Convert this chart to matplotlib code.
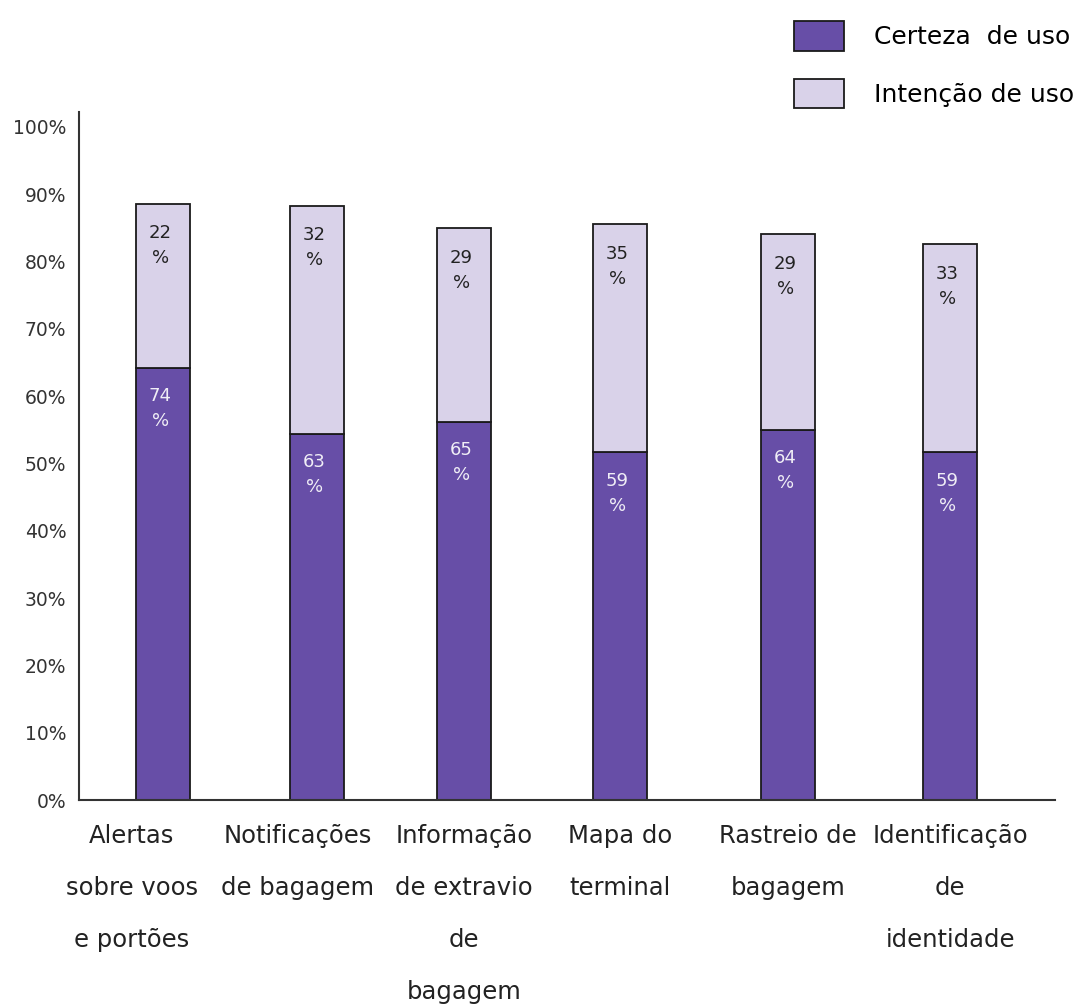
import numpy as np
import matplotlib.pyplot as plt
from matplotlib.transforms import ScaledTranslation

# categories and values (bar heights, labels as printed)
categorias = ["Alertas\nsobre voos\ne portões", "Notificações\nde bagagem",
              "Informação\nde extravio\nde\nbagagem", "Mapa do\nterminal",
              "Rastreio de\nbagagem", "Identificação\nde\nidentidade"]
certeza_altura = [64.2, 54.4, 56.2, 51.7, 55.0, 51.7]
intencao_altura = [24.4, 33.9, 28.8, 33.9, 29.1, 30.9]
certeza_rotulo = [74, 63, 65, 59, 64, 59]
intencao_rotulo = [22, 32, 29, 35, 29, 33]
yticks = [0, 10, 20, 30, 40, 50, 60, 70, 80, 90, 100]

cor_escura = "#674ea7"
cor_clara = "#d9d2e9"

fig = plt.figure(figsize=(10.81, 10.08), dpi=100)
ax = fig.add_axes([0.073, 0.206, 0.903, 0.683])

# hand-drawn layout: bars are not evenly spaced
x = np.array([0, 0.978, 1.912, 2.903, 3.97, 5.0])
w = 0.34
b1 = ax.bar(x, certeza_altura, w, color=cor_escura, edgecolor="#1a1a1a", linewidth=1.3,
            label="Certeza  de uso")
b2 = ax.bar(x, intencao_altura, w, bottom=certeza_altura, color=cor_clara,
            edgecolor="#1a1a1a", linewidth=1.3, label="Intenção de uso")

for i in range(len(x)):
    topo = certeza_altura[i] + intencao_altura[i]
    ax.annotate(f"{intencao_rotulo[i]}\n%", (x[i], topo), xytext=(-2, -15),
                textcoords="offset points", ha="center", va="top",
                fontsize=13, color="#222222", linespacing=1.5)
    ax.annotate(f"{certeza_rotulo[i]}\n%", (x[i], certeza_altura[i]), xytext=(-2, -14),
                textcoords="offset points", ha="center", va="top",
                fontsize=13, color="#f0eef6", linespacing=1.5)

ax.set_xlim(-0.534, 5.667)
ax.set_ylim(0, 102.2)
ax.set_yticks(yticks)
ax.set_yticklabels([f"{t}%" for t in yticks], fontsize=13.5, color="#333333")
ax.set_xticks(x)
ax.set_xticklabels(categorias, fontsize=17.5, color="#222222", linespacing=2.48)
ax.tick_params(axis="y", length=0, pad=9)
ax.tick_params(axis="x", length=0, pad=17)

# first two labels sit a little left of their bars in the original
for lab, dx in zip(ax.get_xticklabels()[:2], [-31, -19]):
    lab.set_transform(lab.get_transform() + ScaledTranslation(dx / 100, 0, fig.dpi_scale_trans))

for s in ["top", "right"]:
    ax.spines[s].set_visible(False)
for s in ["left", "bottom"]:
    ax.spines[s].set_color("#333333")
    ax.spines[s].set_linewidth(1.5)

fig.legend(handles=[b1, b2], loc="upper right", bbox_to_anchor=(1.003, 0.989),
           borderaxespad=0, frameon=False, fontsize=18, handlelength=2.0,
           handleheight=1.44, handletextpad=1.2, labelspacing=1.12)

fig.savefig("out.png", dpi=100)
